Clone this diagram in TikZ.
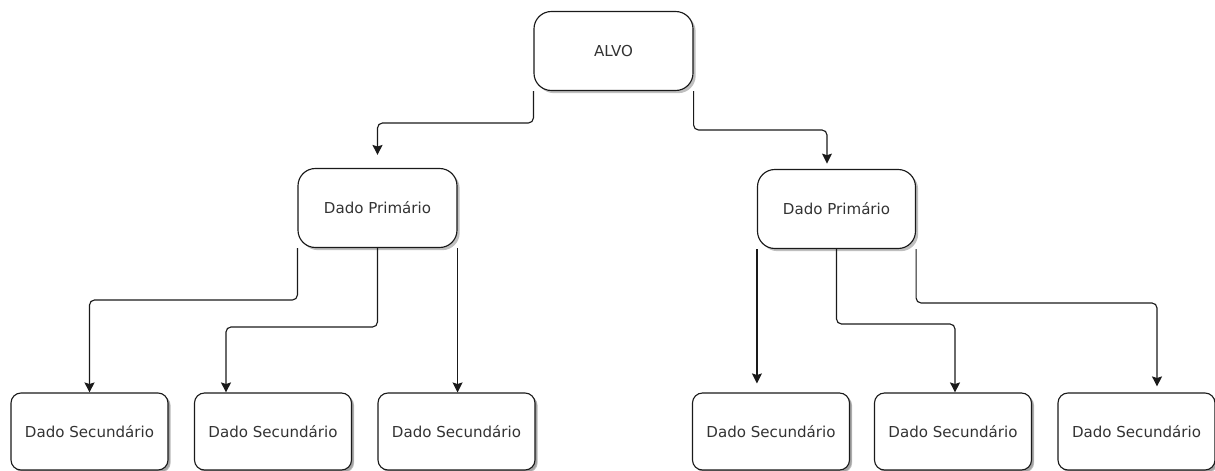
\documentclass[tikz,border=0pt]{standalone}
\usepackage{fontspec}
\setmainfont{DejaVu Sans}
\usetikzlibrary{arrows.meta,shadows,calc}
\definecolor{txt}{HTML}{333333}
\definecolor{ln}{HTML}{1A1A1A}
\begin{document}
\begin{tikzpicture}[x=0.75pt,y=-0.75pt,
  every node/.style={font=\fontsize{11.3}{13.5}\selectfont, text=txt},
  boxbase/.style={draw=ln, line width=0.85pt, fill=white, align=center, inner sep=0pt,
    drop shadow={shadow xshift=2pt, shadow yshift=-2pt, opacity=0.25, fill=black}},
  topbox/.style={boxbase, rounded corners=13pt, minimum width=119.25pt, minimum height=59.25pt},
  secbox/.style={boxbase, rounded corners=7.5pt, minimum width=117.75pt, minimum height=57.75pt,
    drop shadow={shadow xshift=1.5pt, shadow yshift=-1.5pt, opacity=0.15, fill=black}},
  arr/.style={draw=ln, line width=0.85pt, rounded corners=3.75pt,
    -{Stealth[length=7.5pt,width=7.5pt,inset=1.2pt]}}
]
\useasboundingbox (0,0) rectangle (1215,471);

% nodes
\node[topbox] (alvo) at (613.5,51) {ALVO};
\node[topbox] (p1) at (377.5,208) {Dado Primário};
\node[topbox, minimum width=118.5pt] (p2) at (836.5,209) {Dado Primário};

\node[secbox] (s1) at (89.5,431.5) {Dado Secundário};
\node[secbox] (s2) at (273,431.5) {Dado Secundário};
\node[secbox] (s3) at (456.5,431.5) {Dado Secundário};
\node[secbox] (s4) at (771,431.5) {Dado Secundário};
\node[secbox] (s5) at (953,431.5) {Dado Secundário};
\node[secbox] (s6) at (1136.5,431.5) {Dado Secundário};

% connectors from ALVO
\draw[arr, shorten >=9.75pt] (alvo.south west) -- (alvo.south west |- 0,123) -| (p1.north);
\draw[arr, shorten >=4pt] (alvo.south east) -- (alvo.south east |- 0,130) -| (p2.north -| 827,0);

% connectors from left primary
\draw[arr] (p1.south west) -- (p1.south west |- 0,300) -| (s1.north);
\draw[arr] (p1.south) -- (p1.south |- 0,327) -| (s2.north -| 226,0);
\draw[arr] (p1.south east) -- (p1.south east |- s3.north);

% connectors from right primary
\draw[arr, shorten >=6.75pt] (p2.south west) -- (p2.south west |- s4.north);
\draw[arr] (p2.south) -- (p2.south |- 0,324) -| (s5.north -| 955,0);
\draw[arr, shorten >=4.5pt] (p2.south east) -- (p2.south east |- 0,303) -| (s6.north -| 1157,0);
\end{tikzpicture}
\end{document}
